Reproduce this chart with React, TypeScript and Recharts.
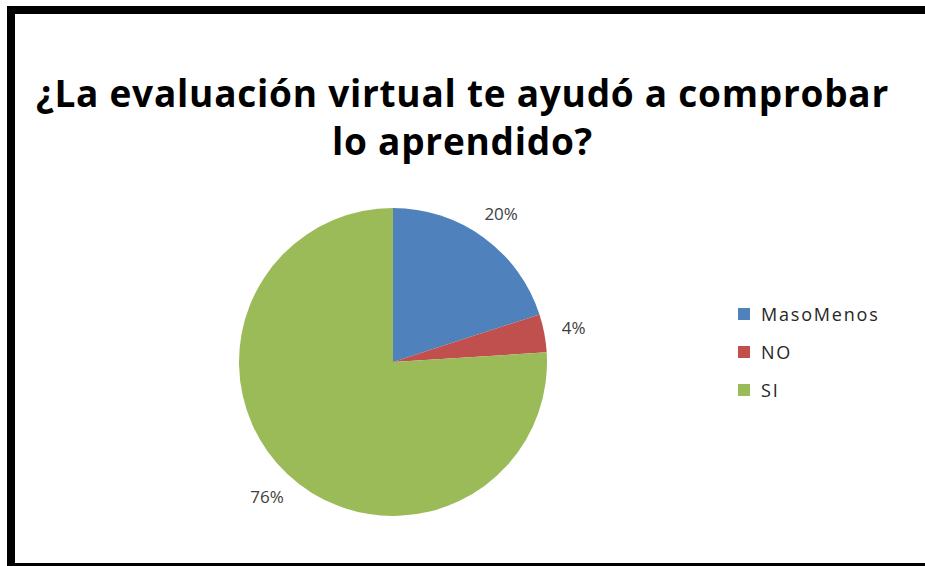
import { Cell, Legend, Pie, PieChart } from 'recharts'

const categories = ['MasoMenos', 'NO', 'SI']
const percentages = [20, 4, 76]
const sliceColors = ['#4F81BD', '#C0504D', '#9BBB59']
const titleLines = ['¿La evaluación virtual te ayudó a comprobar', 'lo aprendido?']

const data = categories.map((name, i) => ({ name, value: percentages[i] }))

const RADIAN = Math.PI / 180
const FONT = '"Open Sans", "Liberation Sans", sans-serif'

/** Percentage label just outside each slice, centered on the slice's mid angle. */
function renderLabel(props: any) {
  const { cx, cy, midAngle, outerRadius, value } = props
  const r = outerRadius + 30
  const x = cx + r * Math.cos(-midAngle * RADIAN)
  const y = cy + r * Math.sin(-midAngle * RADIAN)
  return (
    <text
      x={x}
      y={y}
      textAnchor="middle"
      dominantBaseline="central"
      fill="#404040"
      fontFamily={FONT}
      fontSize={17}
    >
      {`${value}%`}
    </text>
  )
}

function LegendList() {
  return (
    <div style={{ fontFamily: FONT, fontSize: 18, color: '#262626' }}>
      {categories.map((name, i) => (
        <div key={name} style={{ display: 'flex', alignItems: 'center', height: 38 }}>
          <span
            style={{
              display: 'inline-block',
              width: 12,
              height: 12,
              background: sliceColors[i],
              marginRight: 11,
            }}
          />
          <span style={{ letterSpacing: 1.8 }}>{name}</span>
        </div>
      ))}
    </div>
  )
}

export default function App() {
  return (
    <div style={{ position: 'fixed', left: 0, top: 0, width: 925, height: 566, overflow: 'hidden', background: '#fff' }}>
      {/* Thick black frame on top, left and bottom; the right edge is cut off in the source. */}
      <div
        style={{
          position: 'absolute',
          left: 7,
          top: 6,
          width: 930,
          height: 565,
          borderTop: '8px solid #000',
          borderLeft: '8px solid #000',
          borderBottom: '8px solid #000',
          boxSizing: 'border-box',
        }}
      />
      <div
        style={{
          position: 'absolute',
          left: 0,
          top: 69,
          width: 925,
          textAlign: 'center',
          fontFamily: FONT,
          fontWeight: 700,
          fontSize: 37,
          letterSpacing: 0.75,
          lineHeight: '48px',
          color: '#000',
        }}
      >
        {titleLines.map((line) => (
          <div key={line} style={{ whiteSpace: 'nowrap' }}>{line}</div>
        ))}
      </div>
      <div style={{ position: 'absolute', left: 0, top: 0 }}>
        <PieChart width={925} height={566} margin={{ top: 0, right: 0, bottom: 0, left: 0 }}>
          <Pie
            data={data}
            dataKey="value"
            nameKey="name"
            cx={393}
            cy={362}
            outerRadius={154}
            startAngle={90}
            endAngle={-270}
            stroke="none"
            label={renderLabel}
            labelLine={false}
            isAnimationActive={false}
          >
            {data.map((d, i) => (
              <Cell key={d.name} fill={sliceColors[i]} />
            ))}
          </Pie>
          <Legend
            layout="vertical"
            content={() => <LegendList />}
            wrapperStyle={{ position: 'absolute', left: 738, top: 295, width: 180 }}
          />
        </PieChart>
      </div>
    </div>
  )
}
